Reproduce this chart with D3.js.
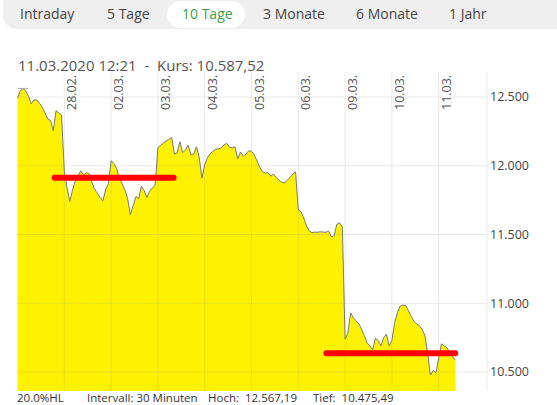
<!DOCTYPE html>
<html><head><meta charset="utf-8">
<script src="https://cdn.jsdelivr.net/npm/d3@7"></script>
<style>
html,body{margin:0;padding:0;background:#fff;}
svg{display:block;font-family:"Open Sans",sans-serif;}
text{white-space:pre;}
</style></head>
<body><svg id="c" width="557" height="405"></svg>
<script>
// ---- data ----
const tabs = ["Intraday","5 Tage","10 Tage","3 Monate","6 Monate","1 Jahr"];
const activeTab = "10 Tage";
const title = "11.03.2020 12:21  -  Kurs: 10.587,52";
const days = ["27.02.","28.02.","02.03.","03.03.","04.03.","05.03.","06.03.","09.03.","10.03.","11.03."];
const slotsPerDay = 17; // 30-minute intervals 09:00 .. 17:00
const yTicks = [10500, 11000, 11500, 12000, 12500];
const prices = [
  // 27.02.
  12490,12545,12563,12545,12505,12450,12480,12478,12455,12425,12385,12340,12330,12255,12400,12385,12370,
  // 28.02.
  11960,11840,11740,11825,11890,11930,11964,11933,11950,11942,11880,11830,11800,11770,11745,11824,11870,
  // 02.03.
  12037,12015,11980,11910,11870,11825,11760,11645,11710,11775,11763,11850,11820,11770,11815,11840,11858,
  // 03.03.
  12130,12150,12165,12180,12192,12206,12085,12095,12175,12095,12115,12150,12080,12085,12138,12060,11910,
  // 04.03.
  12010,12058,12088,12105,12120,12124,12130,12152,12163,12135,12130,12138,12050,12100,12068,12085,12110,
  // 05.03.
  12105,12080,12035,11990,11955,11948,11950,11925,11940,11915,11895,11880,11875,11896,11915,11940,11955,
  // 06.03.
  11680,11665,11618,11562,11525,11513,11518,11516,11520,11518,11516,11525,11484,11490,11575,11585,11555,
  // 09.03.
  10740,10780,10930,10895,10872,10850,10810,10765,10712,10689,10662,10745,10730,10690,10750,10775,10690,
  // 10.03.
  10730,10860,10930,10980,10987,10985,10945,10905,10870,10850,10838,10808,10765,10630,10478,10512,10495,
  // 11.03.
  10600,10705,10690,10675,10645,10612,10588
];
// drawn resistance/support marks: [fromSlot, toSlot, level]
const markFrom = [12.4, 111.1];
const markTo = [57.8, 160.1];
const markLevel = [11913, 10636];
const footer = ["20.0%HL","Intervall: 30 Minuten","Hoch:  12.567,19","Tief:  10.475,49"];
const footerX = [17, 87, 208, 313];

// ---- layout ----
const svg = d3.select("#c");
const L = 17, R = 487, T = 72, B = 391;
const x = d3.scaleLinear().domain([0, days.length*slotsPerDay]).range([17.5, 485.5]);
const y = d3.scaleLinear().domain([10362, 12682]).range([B, T]);

// tab bar
svg.append("rect").attr("x",3).attr("y",-14).attr("width",600).attr("height",43).attr("rx",14).attr("fill","#efefef");
const tabX = [20,107,182,263,356,449];
tabs.forEach((t,i)=>{
  if(t===activeTab){
    svg.append("rect").attr("x",167).attr("y",1).attr("width",78).attr("height",27).attr("rx",13.5).attr("fill","#fff");
  }
  svg.append("text").attr("x",tabX[i]).attr("y",19).attr("font-size",14)
    .attr("fill", t===activeTab ? "#3f9e45" : "#444").text(t);
});

// title
svg.append("text").attr("x",18).attr("y",71).attr("font-size",15).attr("fill","#555").text(title);

// grid
const g = svg.append("g");
g.selectAll("line.h").data(yTicks).join("line")
  .attr("x1",L).attr("x2",R).attr("y1",d=>y(d)).attr("y2",d=>y(d));
g.selectAll("line.v").data(days.slice(1)).join("line")
  .attr("x1",(d,i)=>x((i+1)*slotsPerDay)).attr("x2",(d,i)=>x((i+1)*slotsPerDay))
  .attr("y1",T).attr("y2",B);
g.append("line").attr("x1",R).attr("x2",R).attr("y1",T).attr("y2",B);

// area + line
const area = d3.area().x((d,i)=>x(i)).y0(B).y1(d=>y(d));
const line = d3.line().x((d,i)=>x(i)).y(d=>y(d));
svg.append("path").datum(prices).attr("d",area).attr("fill","#fff200");
g.raise();
g.selectAll("line").attr("stroke","rgba(150,150,150,0.2)").attr("stroke-width",1);
svg.append("path").datum(prices).attr("d",line).attr("fill","none").attr("stroke","#7a7a6a").attr("stroke-width",1);

// high marker
const hiIdx = prices.indexOf(d3.max(prices));
svg.append("line").attr("x1",x(hiIdx)-5).attr("x2",x(hiIdx)+5)
  .attr("y1",y(prices[hiIdx])).attr("y2",y(prices[hiIdx])).attr("stroke","#aaa");

// x labels (rotated)
svg.selectAll("text.xl").data(days.slice(1)).join("text")
  .attr("font-size",12.5).attr("fill","#555").attr("text-anchor","start")
  .attr("transform",(d,i)=>`translate(${x((i+1)*slotsPerDay)+12},110) rotate(-90)`)
  .text(d=>d);

// y labels
const fmt = v => d3.format(",")(v).replace(/,/g,".");
svg.selectAll("text.yl").data(yTicks).join("text")
  .attr("x",490).attr("y",d=>y(d)).attr("dy","0.35em").attr("font-size",12.5).attr("fill","#444")
  .text(d=>fmt(d));

// red marks
markLevel.forEach((lv,i)=>{
  svg.append("line").attr("x1",x(markFrom[i])+3).attr("x2",x(markTo[i])-3)
    .attr("y1",y(lv)).attr("y2",y(lv)).attr("stroke","#ff0000").attr("stroke-width",6).attr("stroke-linecap","round");
});

// footer
footer.forEach((t,i)=>{
  svg.append("text").attr("x",footerX[i]).attr("y",402).attr("font-size",11.5).attr("fill","#333").text(t);
});
</script></body></html>
